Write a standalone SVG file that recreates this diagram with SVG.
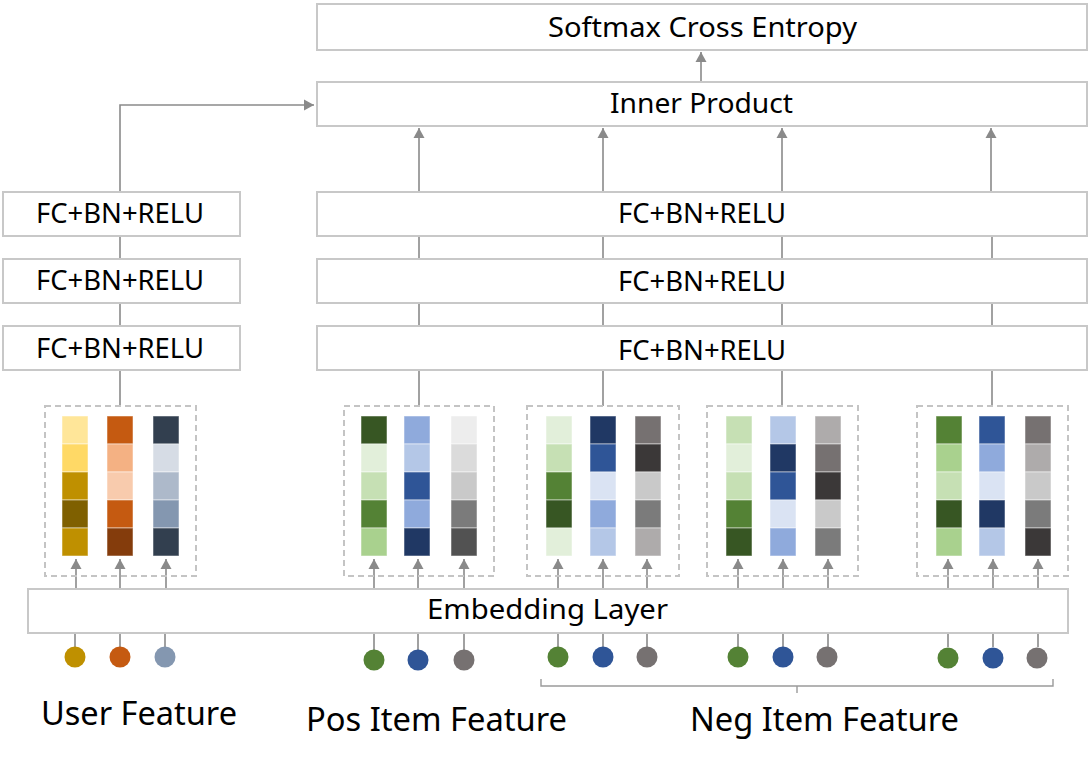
<svg xmlns="http://www.w3.org/2000/svg" width="1089" height="762" viewBox="0 0 1089 762">
<style>
.box{fill:#fff;stroke:#c8c8c8;stroke-width:2}
.dash{fill:none;stroke:#c4c4c4;stroke-width:2;stroke-dasharray:6 4}
.t{font-family:"Noto Sans","Open Sans",sans-serif;font-size:27px;fill:#000;text-anchor:middle}
.lbl{font-family:"Noto Sans","Open Sans",sans-serif;font-size:32px;fill:#000}
.ln{fill:none;stroke:#8a8a8a;stroke-width:1.6}
.ar{fill:none;stroke:#8a8a8a;stroke-width:1.6;marker-end:url(#ah)}
.c rect{stroke:#ffffff;stroke-opacity:0.5;stroke-width:1}
</style>
<defs>
<marker id="ah" markerUnits="userSpaceOnUse" markerWidth="12" markerHeight="12" refX="10" refY="6" orient="auto">
<path d="M0,0.5 L10,6 L0,11.5 z" fill="#8a8a8a"/>
</marker>
</defs>

<g id="connectors">
<line class="ar" x1="701" y1="82" x2="701" y2="52"/>
<polyline class="ar" points="120,191 120,105 314,105"/>
<line class="ln" x1="120" y1="236" x2="120" y2="258"/>
<line class="ln" x1="120" y1="303" x2="120" y2="326"/>
<line class="ln" x1="120" y1="370" x2="120" y2="406"/>
<line class="ar" x1="419" y1="191" x2="419" y2="128"/>
<line class="ar" x1="603" y1="191" x2="603" y2="128"/>
<line class="ar" x1="782" y1="191" x2="782" y2="128"/>
<line class="ar" x1="991" y1="191" x2="991" y2="128"/>
<line class="ln" x1="419" y1="236" x2="419" y2="258"/>
<line class="ln" x1="603" y1="236" x2="603" y2="258"/>
<line class="ln" x1="782" y1="236" x2="782" y2="258"/>
<line class="ln" x1="992" y1="236" x2="992" y2="258"/>
<line class="ln" x1="419" y1="303" x2="419" y2="326"/>
<line class="ln" x1="603" y1="303" x2="603" y2="326"/>
<line class="ln" x1="782" y1="303" x2="782" y2="326"/>
<line class="ln" x1="992" y1="303" x2="992" y2="326"/>
<line class="ln" x1="419" y1="370" x2="419" y2="406"/>
<line class="ln" x1="603" y1="370" x2="603" y2="406"/>
<line class="ln" x1="782" y1="370" x2="782" y2="406"/>
<line class="ln" x1="992" y1="370" x2="992" y2="406"/>
<line class="ar" x1="76" y1="589" x2="76" y2="559"/>
<line class="ar" x1="120" y1="589" x2="120" y2="559"/>
<line class="ar" x1="166" y1="589" x2="166" y2="559"/>
<line class="ar" x1="374" y1="589" x2="374" y2="559"/>
<line class="ar" x1="418" y1="589" x2="418" y2="559"/>
<line class="ar" x1="464" y1="589" x2="464" y2="559"/>
<line class="ar" x1="558" y1="589" x2="558" y2="559"/>
<line class="ar" x1="603" y1="589" x2="603" y2="559"/>
<line class="ar" x1="647" y1="589" x2="647" y2="559"/>
<line class="ar" x1="738" y1="647" x2="738" y2="559"/>
<line class="ar" x1="783" y1="647" x2="783" y2="559"/>
<line class="ar" x1="828" y1="647" x2="828" y2="559"/>
<line class="ar" x1="948" y1="647" x2="948" y2="559"/>
<line class="ar" x1="993" y1="647" x2="993" y2="559"/>
<line class="ar" x1="1038" y1="647" x2="1038" y2="559"/>
<line class="ln" x1="75" y1="633" x2="75" y2="647"/>
<line class="ln" x1="120" y1="633" x2="120" y2="647"/>
<line class="ln" x1="165" y1="633" x2="165" y2="647"/>
<line class="ln" x1="374" y1="633" x2="374" y2="650"/>
<line class="ln" x1="418" y1="633" x2="418" y2="650"/>
<line class="ln" x1="464" y1="633" x2="464" y2="650"/>
<line class="ln" x1="558" y1="633" x2="558" y2="647"/>
<line class="ln" x1="603" y1="633" x2="603" y2="647"/>
<line class="ln" x1="647" y1="633" x2="647" y2="647"/>
<polyline fill="none" stroke="#9a9a9a" stroke-width="1.4" points="541,679 541,686 1053,686 1053,679"/>
<line x1="797" y1="686" x2="797" y2="693" stroke="#9a9a9a" stroke-width="1.4"/>
</g>

<g id="softmax"><rect class="box" x="317" y="4" width="770" height="46"/><text class="t" x="702.5" y="37" textLength="309" lengthAdjust="spacingAndGlyphs">Softmax Cross Entropy</text></g>
<g id="inner-product"><rect class="box" x="317" y="82" width="770" height="44"/><text class="t" x="701.5" y="113" textLength="183" lengthAdjust="spacingAndGlyphs">Inner Product</text></g>

<g id="user-fc3"><rect class="box" x="3" y="192" width="237" height="44"/><text class="t" x="120" y="223" textLength="168" lengthAdjust="spacingAndGlyphs">FC+BN+RELU</text></g>
<g id="user-fc2"><rect class="box" x="3" y="259" width="237" height="44"/><text class="t" x="120" y="290" textLength="168" lengthAdjust="spacingAndGlyphs">FC+BN+RELU</text></g>
<g id="user-fc1"><rect class="box" x="3" y="326" width="237" height="44"/><text class="t" x="120" y="358" textLength="168" lengthAdjust="spacingAndGlyphs">FC+BN+RELU</text></g>

<g id="item-fc3"><rect class="box" x="317" y="192" width="770" height="44"/><text class="t" x="702" y="223" textLength="168" lengthAdjust="spacingAndGlyphs">FC+BN+RELU</text></g>
<g id="item-fc2"><rect class="box" x="317" y="259" width="770" height="44"/><text class="t" x="702" y="291" textLength="168" lengthAdjust="spacingAndGlyphs">FC+BN+RELU</text></g>
<g id="item-fc1"><rect class="box" x="317" y="326" width="770" height="44"/><text class="t" x="702" y="360" textLength="168" lengthAdjust="spacingAndGlyphs">FC+BN+RELU</text></g>

<g id="embedding-layer"><rect class="box" x="28" y="589" width="1040" height="44"/><text class="t" x="547.5" y="619" textLength="241" lengthAdjust="spacingAndGlyphs">Embedding Layer</text></g>

<g id="user-emb">
<rect class="dash" x="45" y="406" width="151" height="170"/>
<g class="c">
<rect x="62" y="416" width="26" height="28" fill="#FFE699"/><rect x="62" y="444" width="26" height="28" fill="#FFD966"/><rect x="62" y="472" width="26" height="28" fill="#BF9000"/><rect x="62" y="500" width="26" height="28" fill="#7F6000"/><rect x="62" y="528" width="26" height="28" fill="#BF9000"/>
<rect x="107" y="416" width="26" height="28" fill="#C55A11"/><rect x="107" y="444" width="26" height="28" fill="#F4B183"/><rect x="107" y="472" width="26" height="28" fill="#F8CBAD"/><rect x="107" y="500" width="26" height="28" fill="#C55A11"/><rect x="107" y="528" width="26" height="28" fill="#843C0C"/>
<rect x="153" y="416" width="26" height="28" fill="#323F4F"/><rect x="153" y="444" width="26" height="28" fill="#D6DCE5"/><rect x="153" y="472" width="26" height="28" fill="#ADB9CA"/><rect x="153" y="500" width="26" height="28" fill="#8497B0"/><rect x="153" y="528" width="26" height="28" fill="#323F4F"/>
</g>
</g>

<g id="pos-emb">
<rect class="dash" x="344" y="406" width="150" height="170"/>
<g class="c">
<rect x="361" y="416" width="26" height="28" fill="#375623"/><rect x="361" y="444" width="26" height="28" fill="#E2EFDA"/><rect x="361" y="472" width="26" height="28" fill="#C6E0B4"/><rect x="361" y="500" width="26" height="28" fill="#548235"/><rect x="361" y="528" width="26" height="28" fill="#A9D18E"/>
<rect x="404" y="416" width="26" height="28" fill="#8FAADC"/><rect x="404" y="444" width="26" height="28" fill="#B4C7E7"/><rect x="404" y="472" width="26" height="28" fill="#2F5597"/><rect x="404" y="500" width="26" height="28" fill="#8FAADC"/><rect x="404" y="528" width="26" height="28" fill="#203864"/>
<rect x="451" y="416" width="26" height="28" fill="#EDEDED"/><rect x="451" y="444" width="26" height="28" fill="#DBDBDB"/><rect x="451" y="472" width="26" height="28" fill="#C9C9C9"/><rect x="451" y="500" width="26" height="28" fill="#7B7B7B"/><rect x="451" y="528" width="26" height="28" fill="#525252"/>
</g>
</g>

<g id="neg1-emb">
<rect class="dash" x="527" y="406" width="152" height="170"/>
<g class="c">
<rect x="546" y="416" width="26" height="28" fill="#E2EFDA"/><rect x="546" y="444" width="26" height="28" fill="#C6E0B4"/><rect x="546" y="472" width="26" height="28" fill="#548235"/><rect x="546" y="500" width="26" height="28" fill="#375623"/><rect x="546" y="528" width="26" height="28" fill="#E2EFDA"/>
<rect x="590" y="416" width="26" height="28" fill="#203864"/><rect x="590" y="444" width="26" height="28" fill="#2F5597"/><rect x="590" y="472" width="26" height="28" fill="#DAE3F3"/><rect x="590" y="500" width="26" height="28" fill="#8FAADC"/><rect x="590" y="528" width="26" height="28" fill="#B4C7E7"/>
<rect x="635" y="416" width="26" height="28" fill="#767171"/><rect x="635" y="444" width="26" height="28" fill="#3B3838"/><rect x="635" y="472" width="26" height="28" fill="#C9C9C9"/><rect x="635" y="500" width="26" height="28" fill="#7B7B7B"/><rect x="635" y="528" width="26" height="28" fill="#AEABAB"/>
</g>
</g>

<g id="neg2-emb">
<rect class="dash" x="707" y="406" width="151" height="170"/>
<g class="c">
<rect x="726" y="416" width="26" height="28" fill="#C6E0B4"/><rect x="726" y="444" width="26" height="28" fill="#E2EFDA"/><rect x="726" y="472" width="26" height="28" fill="#C6E0B4"/><rect x="726" y="500" width="26" height="28" fill="#548235"/><rect x="726" y="528" width="26" height="28" fill="#375623"/>
<rect x="770" y="416" width="26" height="28" fill="#B4C7E7"/><rect x="770" y="444" width="26" height="28" fill="#203864"/><rect x="770" y="472" width="26" height="28" fill="#2F5597"/><rect x="770" y="500" width="26" height="28" fill="#DAE3F3"/><rect x="770" y="528" width="26" height="28" fill="#8FAADC"/>
<rect x="815" y="416" width="26" height="28" fill="#AEABAB"/><rect x="815" y="444" width="26" height="28" fill="#767171"/><rect x="815" y="472" width="26" height="28" fill="#3B3838"/><rect x="815" y="500" width="26" height="28" fill="#C9C9C9"/><rect x="815" y="528" width="26" height="28" fill="#7B7B7B"/>
</g>
</g>

<g id="neg3-emb">
<rect class="dash" x="917" y="406" width="151" height="170"/>
<g class="c">
<rect x="936" y="416" width="26" height="28" fill="#548235"/><rect x="936" y="444" width="26" height="28" fill="#A9D18E"/><rect x="936" y="472" width="26" height="28" fill="#C6E0B4"/><rect x="936" y="500" width="26" height="28" fill="#375623"/><rect x="936" y="528" width="26" height="28" fill="#A9D18E"/>
<rect x="979" y="416" width="26" height="28" fill="#2F5597"/><rect x="979" y="444" width="26" height="28" fill="#8FAADC"/><rect x="979" y="472" width="26" height="28" fill="#DAE3F3"/><rect x="979" y="500" width="26" height="28" fill="#203864"/><rect x="979" y="528" width="26" height="28" fill="#B4C7E7"/>
<rect x="1025" y="416" width="26" height="28" fill="#767171"/><rect x="1025" y="444" width="26" height="28" fill="#AEABAB"/><rect x="1025" y="472" width="26" height="28" fill="#C9C9C9"/><rect x="1025" y="500" width="26" height="28" fill="#7B7B7B"/><rect x="1025" y="528" width="26" height="28" fill="#3B3838"/>
</g>
</g>

<g id="user-features">
<circle cx="75" cy="657" r="10.5" fill="#BF9000"/>
<circle cx="120" cy="657" r="10.5" fill="#C55A11"/>
<circle cx="165" cy="657" r="10.5" fill="#8497B0"/>
<text class="lbl" x="41" y="725" textLength="196" lengthAdjust="spacingAndGlyphs">User Feature</text>
</g>
<g id="pos-features">
<circle cx="374" cy="660" r="10.5" fill="#548235"/>
<circle cx="418" cy="660" r="10.5" fill="#2F5597"/>
<circle cx="464" cy="660" r="10.5" fill="#767171"/>
<text class="lbl" x="306" y="731" textLength="261" lengthAdjust="spacingAndGlyphs">Pos Item Feature</text>
</g>
<g id="neg-features">
<circle cx="558" cy="657" r="10.5" fill="#548235"/>
<circle cx="603" cy="657" r="10.5" fill="#2F5597"/>
<circle cx="647" cy="657" r="10.5" fill="#767171"/>
<circle cx="738" cy="657" r="10.5" fill="#548235"/>
<circle cx="783" cy="657" r="10.5" fill="#2F5597"/>
<circle cx="827" cy="657" r="10.5" fill="#767171"/>
<circle cx="948" cy="658" r="10.5" fill="#548235"/>
<circle cx="993" cy="658" r="10.5" fill="#2F5597"/>
<circle cx="1037" cy="658" r="10.5" fill="#767171"/>
<text class="lbl" x="690" y="731" textLength="269" lengthAdjust="spacingAndGlyphs">Neg Item Feature</text>
</g>
</svg>
